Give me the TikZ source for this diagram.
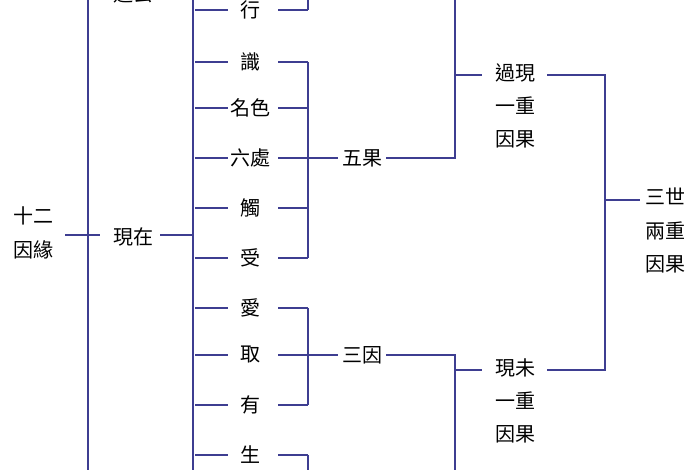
\documentclass[tikz,border=0pt]{standalone}
\usepackage{fontspec}
\setmainfont{Noto Sans CJK TC}
\definecolor{linblue}{RGB}{62,62,145}
\tikzset{
    wd/.style={inner sep=3pt, font=\fontsize{15}{19}\selectfont, align=center},
    ln/.style={draw=linblue, line width=0.9pt}
}
\begin{document}
\begin{tikzpicture}[x=0.75pt,y=-0.75pt]
    \useasboundingbox (0,0) rectangle (700,470);
    \clip (0,0) rectangle (700,470);
    % left columns
    \node[wd] (root) at (33,233) {十二\\[6pt]因緣};
    \node[wd] (past) at (133,-6) {過去};
    \node[wd] (now) at (133,237) {現在};
    \node[wd] (fut) at (133,480) {未來};
    \coordinate (v1t) at (88,-20);
    \coordinate (v1b) at (88,490);
    \draw[ln] (v1t) -- (v1b);
    \draw[ln] (65,235) -- (100,235);
    \draw[ln] (160,235) -- (193,235);
    \coordinate (v2t) at (193,-20);
    \coordinate (v2b) at (193,490);
    \draw[ln] (v2t) -- (v2b);
    % links
    \foreach \n/\t/\y in {a/行/10,b/識/62,c/名色/108,d/六處/158,e/觸/208,f/受/258,g/愛/308,h/取/355,i/有/405,j/生/455}{
        \node[wd] (\n) at (250,\y) {\t};
        \draw[ln] (195,\y) -- (228,\y);
        \draw[ln] (278,\y) -- (308,\y);
    }
    \draw[ln] (308,-20) -- (308,10);
    \draw[ln] (308,62) -- (308,258);
    \draw[ln] (308,308) -- (308,405);
    \draw[ln] (308,455) -- (308,490);
    % middle groups
    \node[wd] (five) at (362,158) {五果};
    \node[wd] (three) at (362,355) {三因};
    \node[wd] (two) at (362,480) {二果};
    \draw[ln] (308,158) -- (five.west);
    \draw[ln] (308,355) -- (three.west);
    \draw[ln] (five.east) -- (455,158) -- (455,-20);
    \draw[ln] (three.east) -- (455,355) -- (455,490);
    % double cause-effect
    \node[wd, anchor=north] (pp) at (515,59) {過現\\[6pt]一重\\[6pt]因果};
    \node[wd, anchor=north] (pf) at (515,354) {現未\\[6pt]一重\\[6pt]因果};
    \draw[ln] (455,75) -- (482,75);
    \draw[ln] (455,370) -- (482,370);
    \draw[ln] (547,75) -- (605,75) -- (605,370) -- (547,370);
    \node[wd, anchor=north] (tw) at (665,184) {三世\\[6pt]兩重\\[6pt]因果};
    \draw[ln] (605,200) -- (640,200);
\end{tikzpicture}
\end{document}
